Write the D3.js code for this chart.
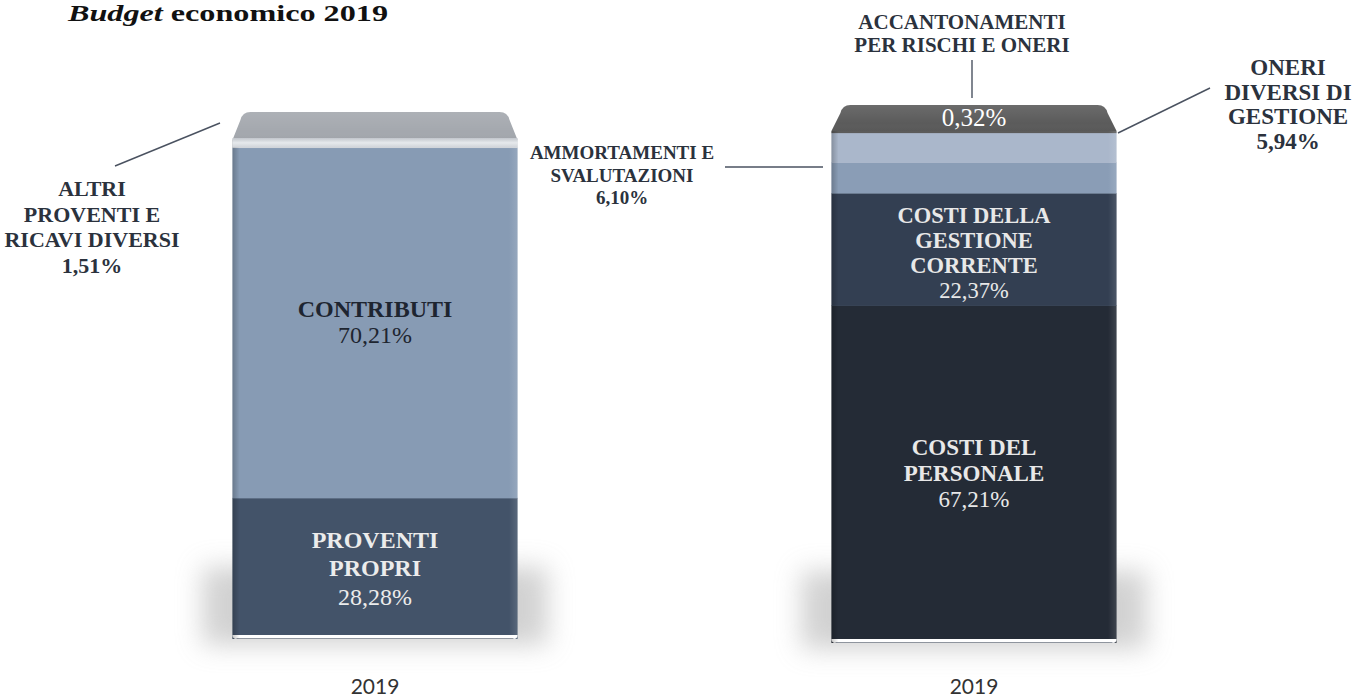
<!DOCTYPE html>
<html>
<head>
<meta charset="utf-8">
<script src="https://cdn.jsdelivr.net/npm/d3@7"></script>
<style>
  html, body { margin: 0; padding: 0; background: #fff; }
  svg { display: block; }
</style>
</head>
<body>
<svg id="chart" width="1372" height="699"></svg>
<script>
// ---- data ----
const years = ["2019", "2019"];

const leftCats = ["PROVENTI PROPRI", "CONTRIBUTI", "ALTRI PROVENTI E RICAVI DIVERSI"];
const leftValues = [28.28, 70.21, 1.51];
const leftLines = [["PROVENTI", "PROPRI"], ["CONTRIBUTI"], ["ALTRI", "PROVENTI E", "RICAVI DIVERSI"]];

const rightCats = ["COSTI DEL PERSONALE", "COSTI DELLA GESTIONE CORRENTE", "AMMORTAMENTI E SVALUTAZIONI",
                   "ONERI DIVERSI DI GESTIONE", "ACCANTONAMENTI PER RISCHI E ONERI"];
const rightValues = [67.21, 22.37, 6.10, 5.94, 0.32];
const rightLines = [["COSTI DEL", "PERSONALE"], ["COSTI DELLA", "GESTIONE", "CORRENTE"], ["AMMORTAMENTI E", "SVALUTAZIONI"],
                    ["ONERI", "DIVERSI DI", "GESTIONE"], ["ACCANTONAMENTI", "PER RISCHI E ONERI"]];

// ---- styles ----
const leftColors = ["#435369", "#879bb4", "#d3d7dc"];
const rightColors = ["#242b36", "#333f52", "#8a9db6", "#aab7cb", "#5b5b5b"];
const topFaceColors = ["#a4a8ae", "#5b5b5b"];
const SERIF = "'Liberation Serif', 'DejaVu Serif', serif";

const svg = d3.select("#chart");
const defs = svg.append("defs");

const fmt = d3.formatLocale({ decimal: ",", thousands: ".", grouping: [3], currency: ["", "€"] }).format(".2f");
const pct = v => fmt(v) + "%";

// title (Garamond in the original is wider, so stretch to its width)
const title = svg.append("text").attr("x", 68).attr("y", 21)
    .attr("font-family", SERIF).attr("font-weight", "bold")
    .attr("font-size", 24).attr("fill", "#111")
    .attr("textLength", 320).attr("lengthAdjust", "spacingAndGlyphs");
title.append("tspan").attr("font-style", "italic").text("Budget");
title.append("tspan").text(" economico 2019");

// x scale for the two stacked columns
const x = d3.scaleBand().domain(d3.range(years.length))
    .range([75.5, 1273.5]).paddingInner(0.524).paddingOuter(0.262);

// vertical frames (bottom, front top, top-face top) — perspective differs per column
const frames = [
    { bottom: 639, front: 140, top: 112, inset: 10 },
    { bottom: 643, front: 131, top: 105, inset: 11 }
];

// filters + gradients
const blur = defs.append("filter").attr("id", "shadow").attr("x", "-50%").attr("y", "-50%")
    .attr("width", "200%").attr("height", "200%");
blur.append("feGaussianBlur").attr("stdDeviation", 13);

const edge = defs.append("linearGradient").attr("id", "edge");
[[0, "#000", 0.22], [0.025, "#000", 0], [0.97, "#fff", 0], [1, "#fff", 0.12]].forEach(([o, c, a]) =>
    edge.append("stop").attr("offset", o).attr("stop-color", c).attr("stop-opacity", a));

const topGrad = defs.append("linearGradient").attr("id", "topgrad").attr("x1", 0).attr("x2", 0).attr("y1", 0).attr("y2", 1);
[[0, "#fff", 0.10], [0.7, "#fff", 0], [1, "#000", 0.04]].forEach(([o, c, a]) =>
    topGrad.append("stop").attr("offset", o).attr("stop-color", c).attr("stop-opacity", a));

const bars = [
    { values: leftValues, colors: leftColors, cats: leftCats },
    { values: rightValues, colors: rightColors, cats: rightCats }
];

bars.forEach((b, i) => {
    const f = frames[i];
    const x0 = x(i), bw = x.bandwidth(), x1 = x0 + bw;
    const y = d3.scaleLinear().domain([0, d3.sum(b.values)]).range([f.bottom, f.front]);
    const cum = [0, ...d3.cumsum(b.values)];
    b.segs = b.values.map((v, k) => ({ v, k, y0: y(cum[k]), y1: y(cum[k + 1]), color: b.colors[k] }));

    const g = svg.append("g").attr("class", "bar");

    // soft floor shadow
    g.append("rect").attr("x", x0 - 30).attr("y", f.bottom - 72).attr("width", bw + 60).attr("height", 78)
        .attr("fill", "#b4b4b4").attr("opacity", 0.6).attr("filter", "url(#shadow)");

    // segments
    g.selectAll("rect.seg").data(b.segs).join("rect").attr("class", "seg")
        .attr("x", x0).attr("width", bw)
        .attr("y", d => d.y1).attr("height", d => d.y0 - d.y1 + (d.k === 0 ? 0 : 0.5))
        .attr("fill", d => d.color);

    // rounded bottom edge
    g.append("path")
        .attr("d", `M${x0},${f.bottom - 4} Q${x0},${f.bottom} ${x0 + 4},${f.bottom} L${x1 - 4},${f.bottom} Q${x1},${f.bottom} ${x1},${f.bottom - 4} Z`)
        .attr("fill", "#fff");
    g.append("line").attr("x1", x0 + 4).attr("x2", x1 - 4).attr("y1", f.bottom - 0.5).attr("y2", f.bottom - 0.5)
        .attr("stroke", "#8f959e").attr("stroke-width", 1);

    // side shading
    g.append("rect").attr("x", x0).attr("width", bw).attr("y", f.front).attr("height", f.bottom - f.front)
        .attr("fill", "url(#edge)");

    // top face (perspective trapezoid with rounded corners)
    const r = 8, t = f.top, fb = f.front, ins = f.inset;
    const face = `M${x0},${fb} L${x0 + ins - 2},${t + r} Q${x0 + ins},${t} ${x0 + ins + r},${t}
                  L${x1 - ins - r},${t} Q${x1 - ins},${t} ${x1 - ins + 2},${t + r} L${x1},${fb} Z`;
    g.append("path").attr("d", face).attr("fill", topFaceColors[i]);
    g.append("path").attr("d", face).attr("fill", "url(#topgrad)");

    // x label
    svg.append("text").attr("x", x0 + bw / 2).attr("y", 694).attr("text-anchor", "middle")
        .attr("font-family", "Lato, 'Open Sans', sans-serif").attr("font-size", 21).attr("fill", "#333")
        .text(years[i]);
});

// highlight band on the thin top segment of the left column
{
    const s = bars[0].segs[2], x0 = x(0), bw = x.bandwidth();
    const hl = defs.append("linearGradient").attr("id", "hl").attr("x1", 0).attr("x2", 0).attr("y1", 0).attr("y2", 1);
    [[0, "#c2c6cc"], [0.5, "#e6e9ec"], [1, "#cfd3d8"]].forEach(([o, c]) => hl.append("stop").attr("offset", o).attr("stop-color", c));
    svg.append("rect").attr("x", x0).attr("width", bw).attr("y", s.y1 - 2).attr("height", s.y0 - s.y1 + 2)
        .attr("fill", "url(#hl)");
}

// ---- labels ----
function block(cx, baseline, lines, opts) {
    const t = svg.append("text").attr("text-anchor", "middle")
        .attr("font-family", SERIF).attr("font-size", opts.size).attr("fill", opts.fill);
    lines.forEach((ln, j) => {
        const last = opts.pctLast && j === lines.length - 1;
        t.append("tspan").attr("x", cx).attr("y", baseline + j * opts.lh)
            .attr("font-family", SERIF)
            .attr("font-weight", last && !opts.boldPct ? "normal" : "bold").text(ln);
    });
    return t;
}

function inside(barIdx, k, fill, size, lh, dy) {
    const b = bars[barIdx], s = b.segs[k];
    const lines = (barIdx === 0 ? leftLines : rightLines)[k].concat([pct(b.values[k])]);
    const cx = x(barIdx) + x.bandwidth() / 2;
    const mid = (s.y0 + s.y1) / 2 + dy;
    const first = mid - (lines.length - 1) * lh / 2 + 7;
    block(cx, first, lines, { size, fill, lh, pctLast: true, boldPct: false });
}

inside(0, 0, "#ececec", 24, 28.5, 1);
inside(0, 1, "#1e2530", 24, 26, 0);
inside(1, 0, "#e8e8e8", 23, 26, 0);
inside(1, 1, "#e8e8e8", 22.5, 25, 4);

// value on the top face
svg.append("text").attr("font-family", SERIF).attr("font-weight", "normal").attr("text-anchor", "middle")
    .attr("x", x(1) + x.bandwidth() / 2).attr("y", 126).attr("font-size", 25).attr("fill", "#fff")
    .text(pct(rightValues[4]));

// outside labels with leader lines
const ink = "#2b323d";
function leader(a, b) {
    svg.append("line").attr("x1", a[0]).attr("y1", a[1]).attr("x2", b[0]).attr("y2", b[1])
        .attr("stroke", "#4a5260").attr("stroke-width", 1.4);
}

block(92, 196, leftLines[2].concat([pct(leftValues[2])]), { size: 22, fill: ink, lh: 25.5, pctLast: true, boldPct: true });
leader([115, 166], [220, 123]);

block(622, 159, rightLines[2].concat([pct(rightValues[2])]), { size: 19, fill: ink, lh: 22.5, pctLast: true, boldPct: true });
leader([725, 167], [823, 167]);

block(1288, 75, rightLines[3].concat([pct(rightValues[3])]), { size: 23, fill: ink, lh: 24.5, pctLast: true, boldPct: true });
leader([1118, 133], [1210, 88]);

block(962, 29, rightLines[4], { size: 21, fill: ink, lh: 23 });
leader([972, 60], [972, 98]);
</script>
</body>
</html>
